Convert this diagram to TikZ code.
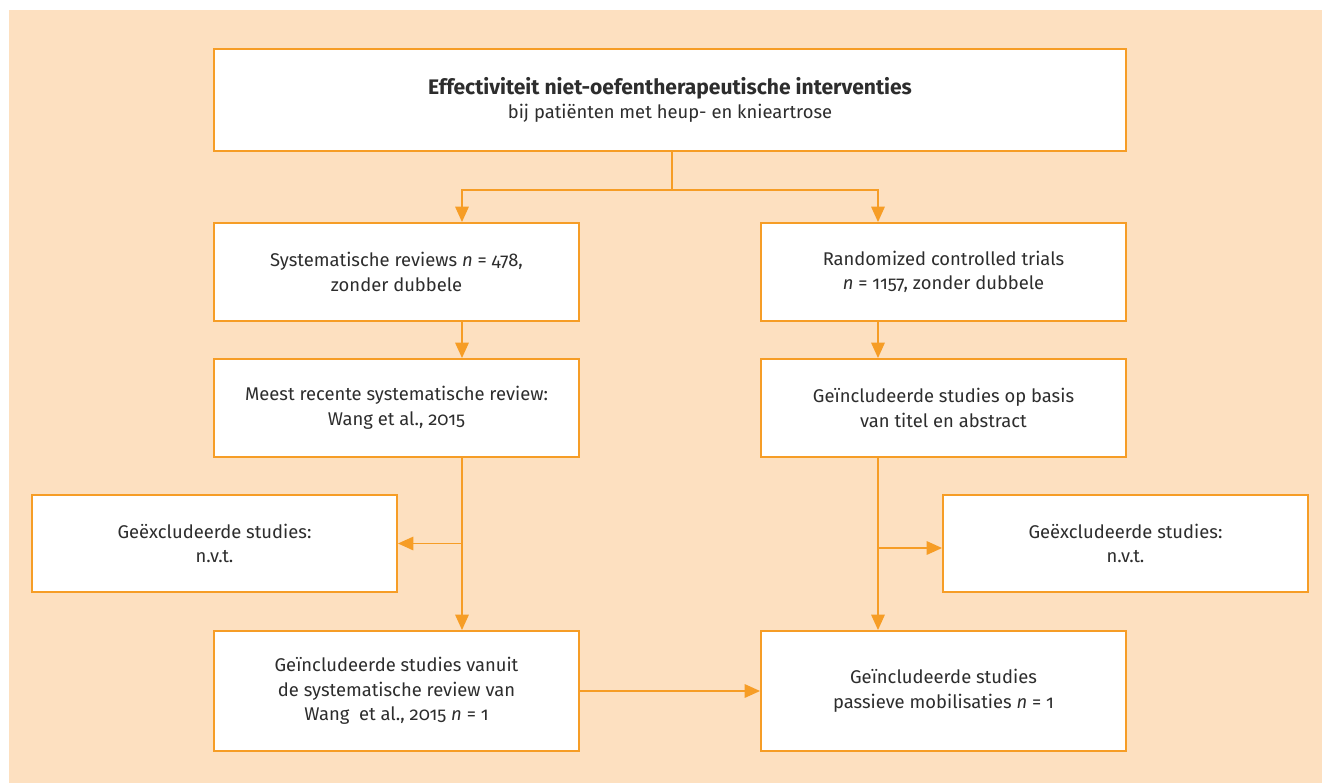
\documentclass[tikz,border=0pt]{standalone}
\usepackage{fontspec}
\setmainfont{Fira Sans}[Numbers=OldStyle]
\usetikzlibrary{arrows.meta}
\definecolor{peach}{RGB}{253,224,192}
\definecolor{flow}{RGB}{246,157,38}
\definecolor{ink}{RGB}{45,45,45}

\begin{document}
\begin{tikzpicture}[x=0.75pt,y=-0.75pt,
  box/.style={draw=flow, line width=1.4pt, fill=white, inner sep=0pt,
    align=center, text=ink, font=\fontsize{13.8}{18.5}\selectfont,
    minimum width=273.75pt, minimum height=73.5pt},
  conn/.style={draw=flow, line width=1.4pt},
  arrow/.style={conn, -{Triangle[length=11.5pt,width=10pt]}}]

% canvas
\useasboundingbox (0,0) rectangle (1322,783);
\fill[peach] (9,10) rectangle (1322,783);

% boxes
\node[box, minimum width=684pt, minimum height=76.5pt] (top) at (670,100)
  {{\fontsize{15.8}{18}\selectfont\textbf{Effectiviteit niet-oefentherapeutische interventies}}\\
   bij patiënten met heup- en knieartrose};

\node[box] (lb1) at (396.5,272) {Systematische reviews \textit{n} = 478,\\ zonder dubbele};
\node[box] (rb1) at (943.5,272) {Randomized controlled trials\\ \textit{n} = 1157, zonder dubbele};

\node[box] (lb2) at (396.5,408) {Meest recente systematische review:\\ Wang et al., 2015};
\node[box] (rb2) at (943.5,408) {Geïncludeerde studies op basis\\ van titel en abstract};

\node[box, minimum height=72.75pt] (lex) at (214.5,543.5) {Geëxcludeerde studies:\\ n.v.t.};
\node[box, minimum height=72.75pt] (rex) at (1125.5,543.5) {Geëxcludeerde studies:\\ n.v.t.};

\node[box, minimum height=90pt] (lb3) at (396.5,691)
  {Geïncludeerde studies vanuit\\ de systematische review van\\ Wang\ \ et al., 2015 \textit{n} = 1};
\node[box, minimum height=90pt] (rb3) at (943.5,691)
  {Geïncludeerde studies\\ passieve mobilisaties \textit{n} = 1};

% connector lanes
\coordinate (lx) at (462,0);
\coordinate (rx) at (878,0);
\coordinate (split) at (672,190);
\coordinate (rbranch) at (878,548);

\draw[conn] (top.south -| split) -- (split);
\draw[arrow] (split) -| (lb1.north -| lx);
\draw[arrow] (split) -| (rb1.north -| rx);

\draw[arrow] (lb1.south -| lx) -- (lb2.north -| lx);
\draw[arrow] (rb1.south -| rx) -- (rb2.north -| rx);

\draw[arrow] (lb2.south -| lx) -- (lb3.north -| lx);
\draw[arrow] (lex.east -| lx) -- (lex.east);

\draw[arrow] (rb2.south -| rx) -- (rb3.north -| rx);
\draw[arrow] (rbranch) -- (rbranch -| rex.west);

\draw[arrow] (lb3.east) -- (rb3.west);
\end{tikzpicture}
\end{document}
